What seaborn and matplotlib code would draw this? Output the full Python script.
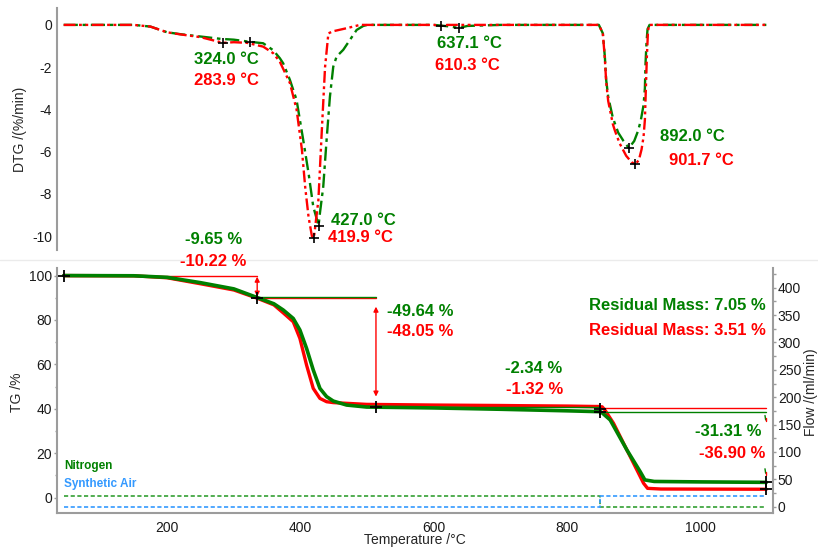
"""TG / DTG curves with purge gas flow, two atmospheres."""
import matplotlib
matplotlib.use("Agg")
import matplotlib.pyplot as plt
from matplotlib.lines import Line2D
from matplotlib.ticker import MultipleLocator
import seaborn as sns

# ---- data ----
dtg_temp_green = [45, 150, 175, 200, 220, 250, 280, 300, 324, 344, 359, 369, 374, 384, 394, 404,
                  412, 419, 427, 429, 434, 439, 444, 449, 454, 464, 474, 484, 494, 500, 600, 625,
                  637, 650, 700, 847, 853, 856, 858, 861, 868, 876, 884, 892, 900, 906, 910, 914,
                  916, 917, 918.5, 920, 923, 1000, 1098]
dtg_green = [0, 0, -0.08, -0.35, -0.44, -0.55, -0.66, -0.7, -0.8, -0.87, -1.2, -1.58, -1.82, -2.6,
             -3.55, -5.45, -7.03, -8.6, -9.5, -8.92, -7.66, -5.45, -3.4, -1.98, -1.5, -1.18, -0.71,
             -0.24, -0.05, 0, 0, -0.08, -0.15, -0.05, 0, 0, -0.4, -1.5, -2.6, -3.4, -4.4, -5.1,
             -5.5, -5.83, -5.5, -5.0, -4.5, -3.8, -3.0, -1.8, -0.8, -0.2, 0, 0, 0]

dtg_temp_red = [45, 150, 175, 200, 220, 250, 284, 300, 320, 344, 359, 369, 384, 394, 402, 407, 412,
                417, 419.9, 426.7, 431.7, 436.7, 441.7, 449, 470, 489, 600, 610, 620, 700, 847, 853,
                856, 858, 861, 868, 871, 878, 888, 896, 901.7, 907, 911, 914, 916, 917.5, 919, 920.5,
                922, 1000, 1098]
dtg_red = [0, 0, -0.08, -0.35, -0.45, -0.58, -0.85, -0.82, -0.85, -1.03, -1.34, -1.75, -2.75, -4.0,
           -5.9, -7.7, -9.1, -10.0, -10.1, -8.3, -5.1, -2.0, -0.4, -0.3, -0.15, 0, 0, -0.05, 0, 0,
           0, -0.4, -1.6, -2.7, -3.6, -4.7, -5.0, -5.6, -6.2, -6.5, -6.6, -6.4, -5.9, -5.3, -4.5,
           -3.0, -1.5, -0.4, 0, 0, 0]

peak_temp_green = [324.0, 427.0, 637.1, 892.0]
peak_dtg_green = [-0.8, -9.5, -0.15, -5.83]
peak_temp_red = [283.9, 419.9, 610.3, 901.7]
peak_dtg_red = [-0.85, -10.1, -0.05, -6.6]

tg_temp_green = [45, 150, 200, 250, 300, 335, 360, 374, 389, 399, 409, 419, 429, 439, 449, 469,
                 499, 550, 600, 700, 800, 850, 864, 889, 909, 916, 930, 1000, 1098]
tg_green = [100, 99.9, 99.2, 96.8, 94.0, 90.1, 87.3, 84.5, 80.7, 75.5, 67.2, 57.5, 49.2, 45.5,
            43.5, 41.7, 40.8, 40.6, 40.4, 39.8, 39.1, 38.7, 35.0, 21.5, 11.7, 8.0, 7.3, 7.1, 6.9]

tg_temp_red = [45, 150, 200, 250, 300, 335, 360, 374, 389, 399, 409, 419, 429, 439, 449, 499, 600,
               700, 800, 852, 856, 869, 894, 914, 920, 940, 1098]
tg_red = [100, 99.9, 99.0, 96.3, 93.5, 89.8, 86.8, 83.2, 79.2, 71.7, 59.7, 49.2, 44.7, 43.2, 42.8,
          42.0, 41.7, 41.5, 41.2, 40.9, 39.5, 33.5, 18.5, 6.5, 4.2, 3.9, 3.8]

flow_temp = [45, 849, 849, 1098]
flow_nitrogen = [20, 20, 0, 0]
flow_air = [0, 0, 20, 20]

# step evaluation: start/end temperature and reference levels
step_start = [45, 335, 513, 849]
step_end = [335, 513, 849, 1098]
step_level_red = [100, 89.8, 41.7, 40.3]
step_level_green = [None, 90.2, 41.0, 38.7]
step_marks_temp = [45, 335, 513, 849, 849, 1098, 1098]
step_marks_tg = [100, 90, 41, 40, 38.7, 7.0, 3.8]

GREEN = "#008000"
RED = "#ff0000"
BLUE = "#3399ff"
N2_GREEN = "#33a033"
AXIS_GRAY = "#9c9c9c"

sns.set_style("white")
plt.rcParams["font.family"] = ["Liberation Sans", "DejaVu Sans"]
plt.rcParams["axes.unicode_minus"] = False

W, H = 818, 549
fig = plt.figure(figsize=(W / 100, H / 100), dpi=100)
ax_top = fig.add_axes([57 / W, 1 - 250 / H, 716 / W, 242 / H])
ax = fig.add_axes([57 / W, 1 - 513 / H, 716 / W, 245 / H])
ax2 = ax.twinx()

# ---- DTG ----
sns.lineplot(x=dtg_temp_green, y=dtg_green, ax=ax_top, color=GREEN, lw=1.7,
             linestyle=(0, (6, 2, 1.5, 2)), estimator=None, sort=False)
sns.lineplot(x=dtg_temp_red, y=dtg_red, ax=ax_top, color=RED, lw=1.7,
             linestyle=(0, (5, 1.5, 1.2, 1.5, 1.2, 1.5)), estimator=None, sort=False)
ax_top.plot(peak_temp_green, peak_dtg_green, "k+", ms=7, mew=1.2)
ax_top.plot(peak_temp_red, peak_dtg_red, "k+", ms=7, mew=1.2)

bold = dict(fontsize=12, fontweight="bold", va="center", ha="left")
ax_top.text(240, -1.66, "324.0 °C", color=GREEN, **bold)
ax_top.text(240, -2.65, "283.9 °C", color=RED, **bold)
ax_top.text(446, -9.24, "427.0 °C", color=GREEN, **bold)
ax_top.text(441, -10.08, "419.9 °C", color=RED, **bold)
ax_top.text(604, -0.9, "637.1 °C", color=GREEN, **bold)
ax_top.text(601, -1.9, "610.3 °C", color=RED, **bold)
ax_top.text(939, -5.29, "892.0 °C", color=GREEN, **bold)
ax_top.text(952, -6.4, "901.7 °C", color=RED, **bold)

ax_top.set_xlim(35, 1108)
ax_top.set_ylim(-10.66, 0.8)
ax_top.yaxis.set_major_locator(MultipleLocator(2))
ax_top.yaxis.set_minor_locator(MultipleLocator(1))
ax_top.set_xticks([])
for s in ["top", "right", "bottom"]:
    ax_top.spines[s].set_visible(False)

# ---- TG ----
sns.lineplot(x=tg_temp_green, y=tg_green, ax=ax, color=GREEN, lw=2.6, estimator=None, sort=False)
sns.lineplot(x=tg_temp_red, y=tg_red, ax=ax, color=RED, lw=2.4, estimator=None, sort=False)
# put green on top like the reference
ax.lines[0].set_zorder(3)

for x0, x1, lvr, lvg in zip(step_start, step_end, step_level_red, step_level_green):
    ax.plot([x0, x1], [lvr, lvr], color=RED, lw=1.0, zorder=2)
    if lvg is not None:
        ax.plot([x0, x1], [lvg, lvg], color=GREEN, lw=1.0, zorder=2)
ax.plot(step_marks_temp, step_marks_tg, "k+", ms=9, mew=1.3, zorder=5)

arrow = dict(arrowstyle="<|-|>", color=RED, lw=1.0, mutation_scale=7, shrinkA=0, shrinkB=0)
ax.annotate("", xy=(335, 90.5), xytext=(335, 99.5), arrowprops=arrow)
ax.annotate("", xy=(513, 45.5), xytext=(513, 86), arrowprops=arrow)
# small leftovers of the last step arrow near the right edge
ax.plot([1096, 1097], [37.0, 35.0], color=GREEN, lw=1.0)
ax.plot([1097, 1097], [36.0, 34.5], color=RED, lw=1.0)
ax.plot([1096, 1097], [13.0, 11.0], color=GREEN, lw=1.0)
ax.plot([1097, 1097], [11.5, 10.0], color=RED, lw=1.0)

ax.text(227, 116.4, "-9.65 %", color=GREEN, clip_on=False, **bold)
ax.text(219, 106.2, "-10.22 %", color=RED, clip_on=False, **bold)
ax.text(530, 84.0, "-49.64 %", color=GREEN, **bold)
ax.text(529, 74.7, "-48.05 %", color=RED, **bold)
ax.text(706, 58.2, "-2.34 %", color=GREEN, **bold)
ax.text(708, 48.5, "-1.32 %", color=RED, **bold)
bold_r = dict(bold, ha="right")
ax.text(1097, 86.3, "Residual Mass: 7.05 %", color=GREEN, **bold_r)
ax.text(1097, 75.3, "Residual Mass: 3.51 %", color=RED, **bold_r)
ax.text(1091, 29.7, "-31.31 %", color=GREEN, **bold_r)
ax.text(1097, 20.0, "-36.90 %", color=RED, **bold_r)
ax.text(46, 14.4, "Nitrogen", color=GREEN, fontsize=8.5, fontweight="bold", va="center")
ax.text(46, 6.2, "Synthetic Air", color=BLUE, fontsize=8.5, fontweight="bold", va="center")

ax.set_xlim(35, 1108)
ax.set_ylim(-6.9, 103.4)
ax.xaxis.set_major_locator(MultipleLocator(200))
ax.xaxis.set_minor_locator(MultipleLocator(100))
ax.yaxis.set_major_locator(MultipleLocator(20))
ax.yaxis.set_minor_locator(MultipleLocator(10))
ax.spines["top"].set_visible(False)
ax.spines["right"].set_visible(False)

# ---- gas flow ----
ax2.plot(flow_temp, flow_nitrogen, color=N2_GREEN, lw=1.2, ls=(0, (2.5, 1.5)))
ax2.plot(flow_temp, flow_air, color=BLUE, lw=1.2, ls=(0, (2.5, 1.5)))
ax2.set_ylim(-11.5, 436)
ax2.yaxis.set_major_locator(MultipleLocator(50))
ax2.yaxis.set_minor_locator(MultipleLocator(25))
for s in ["top", "left", "bottom"]:
    ax2.spines[s].set_visible(False)

for a in (ax_top, ax, ax2):
    for s in a.spines.values():
        s.set_color(AXIS_GRAY)
        s.set_linewidth(1.5)
    a.tick_params(which="major", length=2.5, width=1, color=AXIS_GRAY, labelsize=10,
                  labelcolor="#1a1a1a", pad=1)
    a.tick_params(which="minor", length=1.8, width=1, color=AXIS_GRAY)
    a.set_xlabel("")
    a.set_ylabel("")
ax.tick_params(axis="x", which="major", pad=3)

# separator between the two panels, kept behind the texts
fig.add_artist(Line2D([0, 1], [1 - 260 / H] * 2, color="#ebebeb", lw=1, zorder=-1))

fig.text(20 / W, 1 - 129 / H, "DTG /(%/min)", rotation=90, ha="center", va="center", fontsize=10)
fig.text(17 / W, 1 - 392 / H, "TG /%", rotation=90, ha="center", va="center", fontsize=10)
fig.text(811.5 / W, 1 - 392 / H, "Flow /(ml/min)", rotation=90, ha="center", va="center",
         fontsize=10)
fig.text(415 / W, 1 - 540 / H, "Temperature /°C", ha="center", va="center", fontsize=10)

fig.savefig("out.png", dpi=100)
